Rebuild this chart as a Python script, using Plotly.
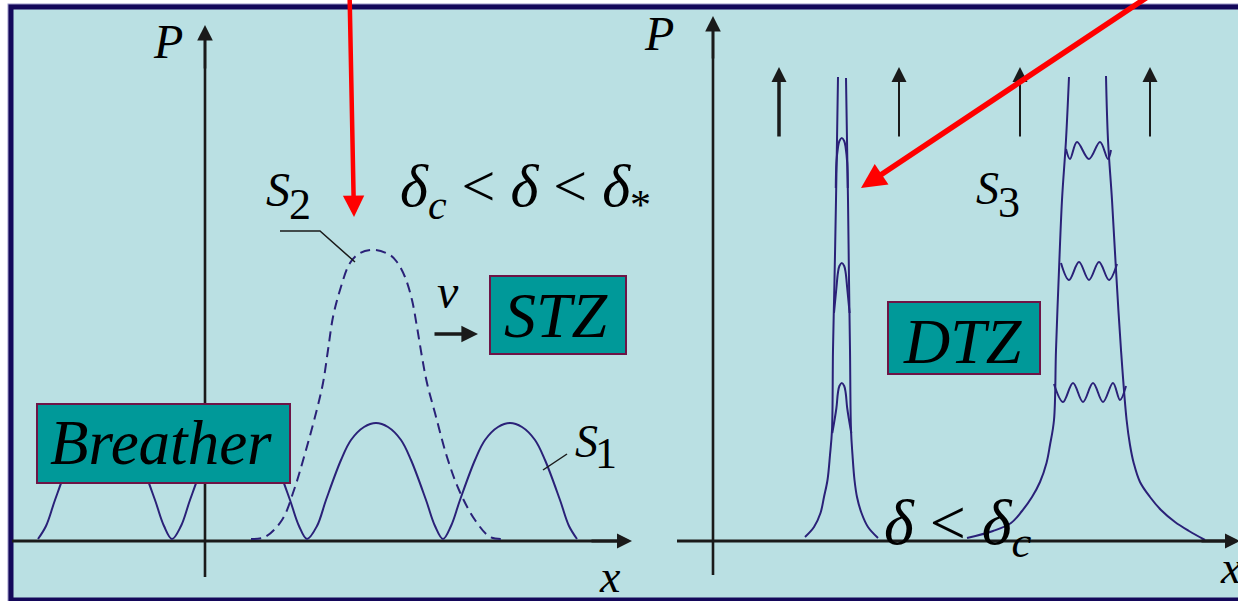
import plotly.graph_objects as go

# ------------------------------------------------------------------ data
# Values, in canvas pixel units
# (x to the right, y downward) of the 1238 x 601 drawing.

# S1 : solid breather profile (one hump read, repeated at each trough)
S1_TROUGHS = [38, 173, 309, 443]
S1_HUMP_DX = [0, 8, 17, 32, 42, 55, 67, 79, 92, 102, 117, 126, 134]
S1_HUMP_H = [0, 13, 39, 79, 99, 112, 116, 112, 99, 79, 39, 13, 0]
S1_BASE = 539

# S2 : dashed travelling pulse
S2_X = [251, 265, 282, 294, 304, 316, 323, 328, 333, 340, 350, 360, 375,
        390, 397, 405, 412, 417, 422, 427, 435, 447, 459, 475, 490, 501]
S2_Y = [539, 537, 520, 490, 457, 413, 383, 350, 317, 290, 263, 253, 250,
        255, 262, 277, 300, 327, 357, 383, 413, 457, 490, 520, 537, 539]

# S3 : narrow spike (left / right walls)
NARROW_L_X = [838, 837, 836, 834.5, 833, 832, 830, 827.5, 824, 820.5, 814, 805]
NARROW_L_Y = [77, 140, 200, 280, 350, 430, 455, 480, 497, 513, 527, 537]
NARROW_R_X = [846, 847, 848, 849, 850, 851, 852.5, 854.5, 857, 861.5, 868, 878]
NARROW_R_Y = [78, 140, 200, 280, 350, 430, 455, 480, 497, 513, 527, 538]
NARROW_CX = 841.8
ARCH_APEX_Y = [138, 263, 383]
ARCH_FOOT_HW = [6.0, 7.8, 9.5]
ARCH_TOP_DX = [0, 2.4, 3.9, 5.4]
ARCH_TOP_DY = [0, 3, 10, 25]
ARCH_FOOT_DY = 50

# S3 : wide spike (left / right walls) and its inner ripples
WIDE_L_X = [1069, 1066, 1062, 1059, 1056, 1054, 1050, 1046.5, 1040, 1032, 1022, 1011, 993, 967]
WIDE_L_Y = [77, 140, 200, 270, 350, 420, 445, 463, 482, 497, 511, 523, 531, 538]
WIDE_R_X = [1106, 1108, 1112, 1116, 1121, 1126.6, 1130, 1133.7, 1140, 1150, 1161, 1175, 1189, 1205]
WIDE_R_Y = [76, 140, 200, 270, 350, 420, 445, 463, 482, 497, 510, 522, 531, 540]
WAVE1_X = [1066, 1070, 1077, 1089, 1100, 1108, 1111]
WAVE1_Y = [149, 159, 142, 159, 142, 159, 150]
WAVE2_X = [1061, 1069, 1079, 1089, 1099, 1109, 1117]
WAVE2_Y = [263, 280, 262, 280, 262, 280, 264]
WAVE3_X = [1054, 1063, 1073, 1083, 1093, 1103, 1113, 1120, 1126]
WAVE3_Y = [384, 402, 383, 402, 383, 402, 383, 400, 386]

# growth arrows above the right panel
UP_ARROWS_X = [779, 899, 1020, 1150]
UP_ARROWS_W = [3.5, 2.0, 2.0, 2.0]

# ------------------------------------------------------------------ styles
BG = "#BAE0E3"
FRAME = "#14085A"
HALO = "#9C98C8"
CURVE = "#2A2178"
TEAL = "#009999"
BOX_EDGE = "#6E1446"
RED = "#FF0000"
INK = "#1A1A1A"
FONT = "Liberation Serif"

fig = go.Figure()


def line(xs, ys, color=CURVE, width=2.0, dash=None, spline=True):
    fig.add_trace(go.Scatter(
        x=xs, y=ys, mode="lines", hoverinfo="skip",
        line=dict(color=color, width=width, dash=dash,
                  shape="spline" if spline else "linear", smoothing=1.0)))


# axes bodies (heads are added as annotations)
line([205, 205], [577, 40], INK, 2.6, spline=False)
line([12, 620], [541, 541], INK, 3.0, spline=False)
line([713, 713], [575, 30], INK, 2.6, spline=False)
line([677, 1225], [541, 541], INK, 3.0, spline=False)

# S1
s1x, s1y = [], []
for i, t in enumerate(S1_TROUGHS):
    for j, (dx, h) in enumerate(zip(S1_HUMP_DX, S1_HUMP_H)):
        if i > 0 and j == 0:
            continue
        s1x.append(t + dx)
        s1y.append(S1_BASE - h)
line(s1x, s1y, CURVE, 2.0)

# S2
line(S2_X, S2_Y, CURVE, 2.0, dash="10px,6px")

# narrow spike
line(NARROW_L_X, NARROW_L_Y, CURVE, 2.0)
line(NARROW_R_X, NARROW_R_Y, CURVE, 2.0)
for a, hw in zip(ARCH_APEX_Y, ARCH_FOOT_HW):
    xs = [NARROW_CX - hw] + [NARROW_CX - d for d in reversed(ARCH_TOP_DX[1:])] + [NARROW_CX] + \
         [NARROW_CX + d for d in ARCH_TOP_DX[1:]] + [NARROW_CX + hw]
    ys = [a + ARCH_FOOT_DY] + [a + d for d in reversed(ARCH_TOP_DY[1:])] + [a] + \
         [a + d for d in ARCH_TOP_DY[1:]] + [a + ARCH_FOOT_DY]
    line(xs, ys, CURVE, 2.0)

# wide spike
line(WIDE_L_X, WIDE_L_Y, CURVE, 2.0)
line(WIDE_R_X, WIDE_R_Y, CURVE, 2.0)
for wx, wy in [(WAVE1_X, WAVE1_Y), (WAVE2_X, WAVE2_Y), (WAVE3_X, WAVE3_Y)]:
    line(wx, wy, CURVE, 2.0)

# leader lines
line([280, 320, 355], [231, 231, 262], INK, 1.5, spline=False)
line([543, 567], [470, 454], INK, 1.5, spline=False)

# ------------------------------------------------------------------ shapes
shapes = [
    dict(type="rect", xref="x", yref="y", x0=11, x1=1260, y0=7, y1=600,
         line=dict(color=HALO, width=7), fillcolor=BG, layer="below"),
    dict(type="rect", xref="x", yref="y", x0=11, x1=1260, y0=7, y1=600,
         line=dict(color=FRAME, width=5), fillcolor=BG, layer="below"),
]
boxes = [(37, 290, 404, 483), (490, 626, 276, 354), (888, 1040, 302, 374)]
for x0, x1, y0, y1 in boxes:
    shapes.append(dict(type="rect", xref="x", yref="y", x0=x0, x1=x1, y0=y0, y1=y1,
                       line=dict(color=BOX_EDGE, width=2), fillcolor=TEAL, layer="above"))

# ------------------------------------------------------------------ annotations
ann = []


def arrow(x, y, ax, ay, color=INK, width=2.0, size=1.4):
    ann.append(dict(x=x, y=y, ax=ax, ay=ay, xref="x", yref="y", axref="x", ayref="y",
                    text="", showarrow=True, arrowhead=2, arrowsize=size,
                    arrowwidth=width, arrowcolor=color, standoff=0, startstandoff=0))


def text(x, y, s, size, xanchor="center"):
    ann.append(dict(x=x, y=y, xref="x", yref="y", text=s, showarrow=False,
                    font=dict(family=FONT, size=size, color="black"),
                    xanchor=xanchor, yanchor="middle"))


# axis heads
arrow(205, 25, 205, 70, INK, 2.6, 1.2)
arrow(632, 541, 590, 541, INK, 3.0, 1.0)
arrow(713, 16, 713, 60, INK, 2.6, 1.2)
arrow(1240, 541, 1200, 541, INK, 3.0, 1.0)

# growth arrows
for xa, wa in zip(UP_ARROWS_X, UP_ARROWS_W):
    arrow(xa, 67, xa, 138, INK, wa, 3.0 / wa)

# velocity arrow
arrow(478, 334, 433, 334, INK, 3.5, 0.95)

# labels
text(168, 41, "<i>P</i>", 48)
text(659, 33, "<i>P</i>", 48)
text(610, 576, "<i>x</i>", 46)
text(1218, 567, "<i>x</i>", 46, xanchor="left")
text(448, 291, "<i>v</i>", 48)
text(278, 189, "<i>S</i>", 48)
text(300, 204, "2", 44)
text(586, 441, "<i>S</i>", 46)
text(606, 453, "1", 44)
text(987, 188, "<i>S</i>", 46)
text(1009, 202, "3", 44)
text(525, 190, "<i>δ</i><sub><i>c</i></sub> &lt; <i>δ</i> &lt; <i>δ</i><sub>*</sub>", 60)
text(958, 527, "<i>δ</i> &lt; <i>δ</i><sub><i>c</i></sub>", 64)
text(161, 443, "<i>Breather</i>", 63)
text(556, 315, "<i>STZ</i>", 64)
text(963, 341, "<i>DTZ</i>", 64)

# red pointers (on top of everything)
arrow(354, 217, 349.5, -10, RED, 4.5, 0.95)
arrow(861, 188, 1158, -10, RED, 5.5, 0.9)

fig.update_layout(
    width=1238, height=601,
    margin=dict(l=0, r=0, t=0, b=0),
    paper_bgcolor="white", plot_bgcolor="white",
    showlegend=False,
    font=dict(family=FONT),
    xaxis=dict(range=[0, 1238], visible=False, fixedrange=True),
    yaxis=dict(range=[601, 0], visible=False, fixedrange=True),
    shapes=shapes, annotations=ann,
)

fig.write_html("out.html", config={"displayModeBar": False},
               post_script="document.body.style.margin='0';")
